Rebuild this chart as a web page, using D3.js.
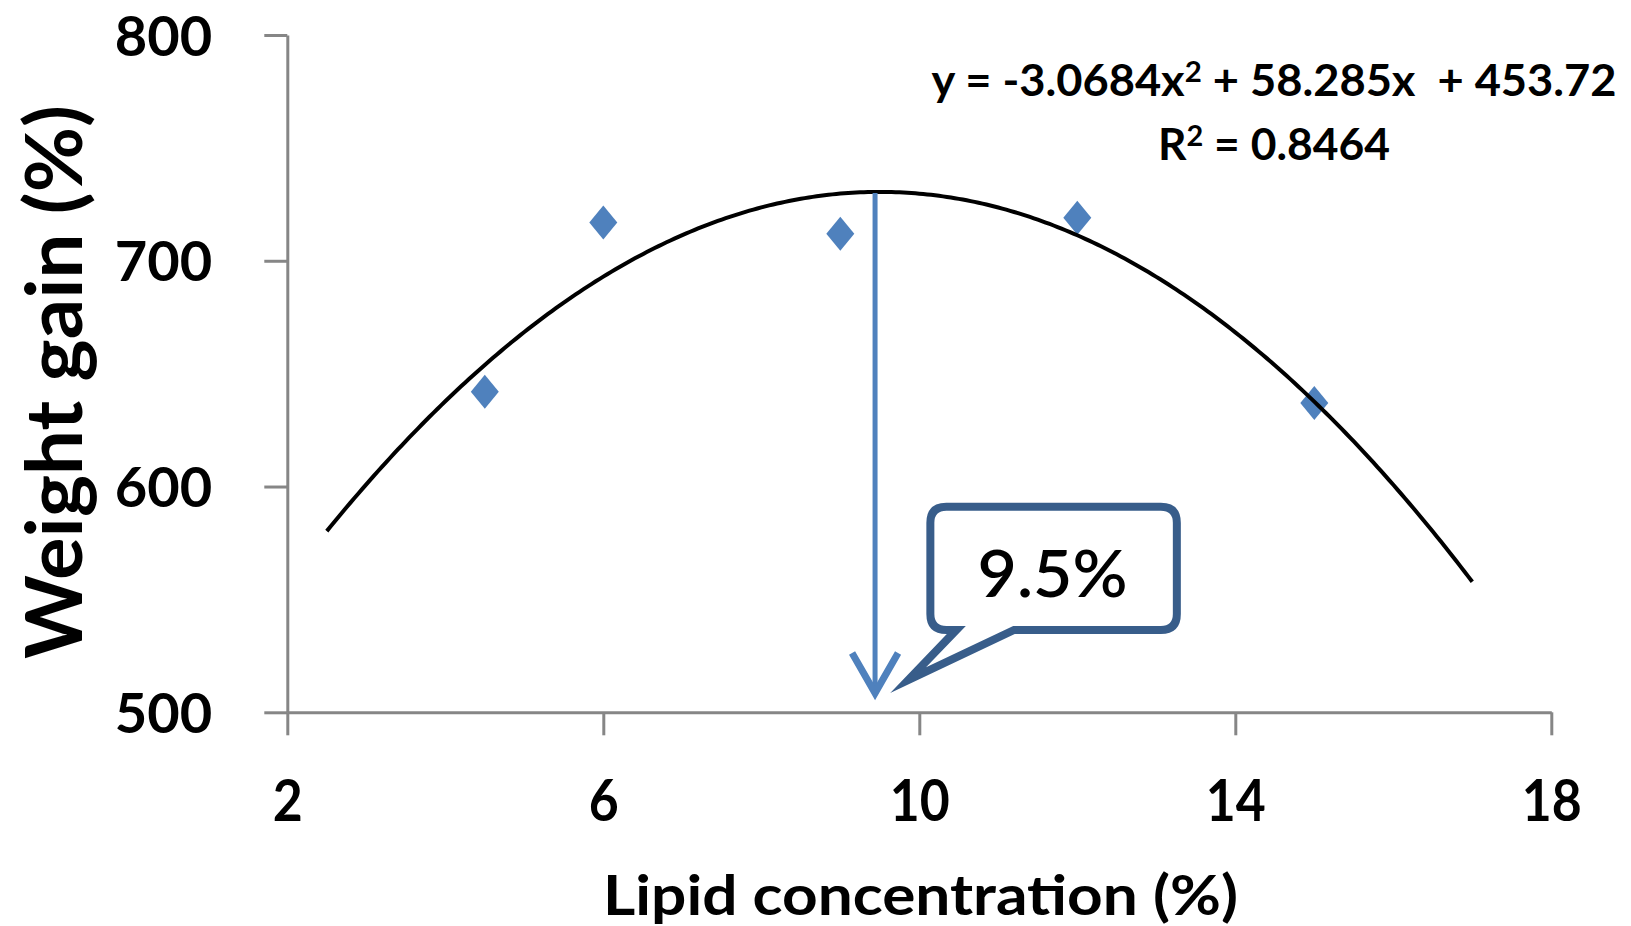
<!DOCTYPE html>
<html>
<head>
<meta charset="utf-8">
<script src="https://cdn.jsdelivr.net/npm/d3@7"></script>
<style>
  body { margin: 0; background: #fff; }
  svg text { font-family: Lato, "Open Sans", sans-serif; fill: #000; }
</style>
</head>
<body>
<svg id="chart"></svg>
<script>
// data
const xTicks = [2, 6, 10, 14, 18];
const yTicks = [500, 600, 700, 800];
const lipidLevels = [4.5, 6, 9, 12, 15];
const weightGain = [642, 717, 712, 719, 637];

// polynomial trendline y = a*x^2 + b*x + c, as printed on the chart
const trendCoef = [-3.0684, 58.285, 453.72];
const trendRange = [2.5, 17];
const equationText = ["y = -3.0684x", "2", " + 58.285x  + 453.72"];
const rSquaredText = ["R", "2", " = 0.8464"];

// annotation: arrow down to the optimum and its callout
const optimumLabel = "9.5%";
const arrowX = 9.44;
const arrowY = [730, 508.5];
const calloutBox = [[10.14, 591], [13.26, 536.5]];
const calloutTailBase = [10.47, 11.2];
const calloutTailTip = [9.86, 514.3];

const width = 1631, height = 926;
const plot = { left: 287.3, right: 1551.3, top: 35, bottom: 712.3 };

const axisColor = "#868686";
const markerColor = "#4F81BD";
const calloutColor = "#385D8A";

const svg = d3.select("#chart").attr("width", width).attr("height", height);
svg.append("rect").attr("width", width).attr("height", height).attr("fill", "#fff");

const x = d3.scaleLinear().domain([2, 18]).range([plot.left, plot.right]);
const y = d3.scaleLinear().domain([500, 800]).range([plot.bottom, plot.top]);

// axes
const yAxis = svg.append("g")
  .attr("transform", `translate(${plot.left},0)`)
  .call(d3.axisLeft(y).tickValues(yTicks).tickSize(23).tickSizeOuter(0).tickPadding(52));

const xAxis = svg.append("g")
  .attr("transform", `translate(0,${plot.bottom})`)
  .call(d3.axisBottom(x).tickValues(xTicks).tickSize(23).tickSizeOuter(0));

[yAxis, xAxis].forEach(g => {
  g.select(".domain").attr("stroke", axisColor).attr("stroke-width", 3);
  g.selectAll(".tick line").attr("stroke", axisColor).attr("stroke-width", 3);
});

yAxis.selectAll(".tick text")
  .attr("dy", "0.36em")
  .style("font-size", "56px")
  .style("font-weight", "bold");

xAxis.selectAll(".tick text")
  .attr("dy", null)
  .attr("y", 109)
  .style("font-size", "58px")
  .style("font-weight", "bold")
  .attr("textLength", d => String(d).length * 30)
  .attr("lengthAdjust", "spacingAndGlyphs");

// axis titles
svg.append("text")
  .attr("transform", "translate(82,382) rotate(-90)")
  .attr("text-anchor", "middle")
  .attr("textLength", 554)
  .attr("lengthAdjust", "spacingAndGlyphs")
  .style("font-size", "79px")
  .style("font-weight", "bold")
  .text("Weight gain (%)");

svg.append("text")
  .attr("x", 920.5)
  .attr("y", 915)
  .attr("text-anchor", "middle")
  .attr("textLength", 635)
  .attr("lengthAdjust", "spacingAndGlyphs")
  .style("font-size", "56px")
  .style("font-weight", "bold")
  .text("Lipid concentration (%)");

// data points
const points = lipidLevels.map((v, i) => ({ lipid: v, gain: weightGain[i] }));

svg.append("g")
  .selectAll("path")
  .data(points)
  .join("path")
  .attr("d", "M0,-17L14,0L0,17L-14,0Z")
  .attr("transform", d => `translate(${x(d.lipid)},${y(d.gain)})`)
  .attr("fill", markerColor);

// trendline
const [a, b, c] = trendCoef;
const trendPoints = d3.range(trendRange[0], trendRange[1] + 1e-9, 0.05)
  .map(v => [v, a * v * v + b * v + c]);

svg.append("path")
  .datum(trendPoints)
  .attr("fill", "none")
  .attr("stroke", "#000")
  .attr("stroke-width", 4)
  .attr("d", d3.line().x(d => x(d[0])).y(d => y(d[1])));

// arrow
const ax = x(arrowX), ay0 = y(arrowY[0]), ay1 = y(arrowY[1]);
svg.append("line")
  .attr("x1", ax).attr("x2", ax)
  .attr("y1", ay0).attr("y2", ay1 - 3)
  .attr("stroke", markerColor)
  .attr("stroke-width", 5);
svg.append("path")
  .attr("d", `M${ax - 23},${ay1 - 40}L${ax},${ay1}L${ax + 23},${ay1 - 40}`)
  .attr("fill", "none")
  .attr("stroke", markerColor)
  .attr("stroke-width", 7)
  .attr("stroke-linejoin", "miter");

// callout
const bx0 = x(calloutBox[0][0]), by0 = y(calloutBox[0][1]);
const bx1 = x(calloutBox[1][0]), by1 = y(calloutBox[1][1]);
const tl = x(calloutTailBase[0]), tr = x(calloutTailBase[1]);
const tx = x(calloutTailTip[0]), ty = y(calloutTailTip[1]);
const r = 16;

svg.append("path")
  .attr("d", `M${bx0 + r},${by0}H${bx1 - r}Q${bx1},${by0} ${bx1},${by0 + r}` +
    `V${by1 - r}Q${bx1},${by1} ${bx1 - r},${by1}H${tr}L${tx},${ty}L${tl},${by1}` +
    `H${bx0 + r}Q${bx0},${by1} ${bx0},${by1 - r}V${by0 + r}Q${bx0},${by0} ${bx0 + r},${by0}Z`)
  .attr("fill", "#fff")
  .attr("stroke", calloutColor)
  .attr("stroke-width", 8)
  .attr("stroke-miterlimit", 20);

svg.append("text")
  .attr("x", (bx0 + bx1) / 2 - 1)
  .attr("y", 597)
  .attr("text-anchor", "middle")
  .attr("textLength", 150)
  .attr("lengthAdjust", "spacingAndGlyphs")
  .style("font-size", "65px")
  .style("font-weight", 600)
  .text(optimumLabel);

// trendline equation
function supText(parts, yPos, len) {
  const t = svg.append("text")
    .attr("x", 1274)
    .attr("y", yPos)
    .attr("text-anchor", "middle")
    .attr("textLength", len)
    .attr("lengthAdjust", "spacingAndGlyphs")
    .style("font-size", "43px")
    .style("font-weight", "bold")
    .style("white-space", "pre");
  t.append("tspan").text(parts[0]);
  t.append("tspan").attr("dy", -14).style("font-size", "28px").text(parts[1]);
  t.append("tspan").attr("dy", 14).text(parts[2]);
}
supText(equationText, 96, 685);
supText(rSquaredText, 160, 232);
</script>
</body>
</html>
